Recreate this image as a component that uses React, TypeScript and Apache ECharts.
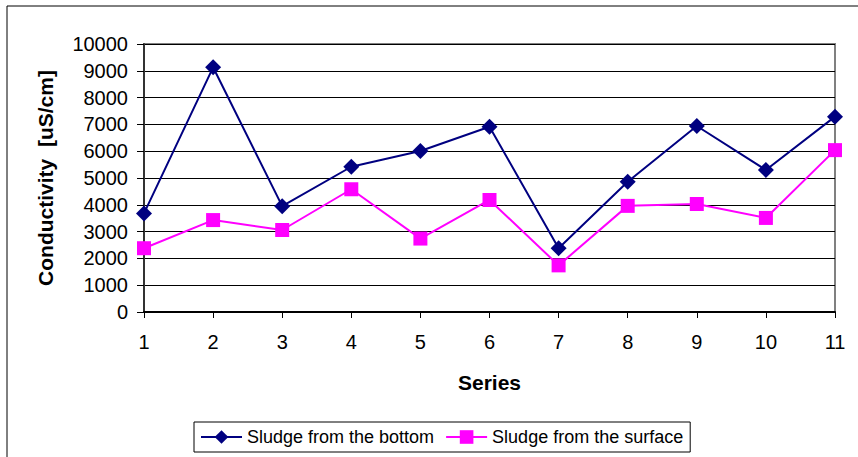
import React, { useEffect, useRef } from "react";
import * as echarts from "echarts";

// Sample numbers along the x axis
const categories = ["1", "2", "3", "4", "5", "6", "7", "8", "9", "10", "11"];

// Conductivity in uS/cm
const bottomSludge = [3680, 9130, 3950, 5420, 6010, 6910, 2380, 4860, 6940, 5300, 7290];
const surfaceSludge = [2380, 3430, 3060, 4580, 2740, 4180, 1740, 3960, 4030, 3510, 6040];

const FONT = "'Liberation Sans', Arial, sans-serif";

export default function App() {
  const ref = useRef<HTMLDivElement>(null);

  useEffect(() => {
    if (!ref.current) return;
    const chart = echarts.init(ref.current, undefined, { renderer: "svg" });
    chart.setOption({
      animation: false,
      backgroundColor: "#ffffff",
      textStyle: { fontFamily: FONT },
      graphic: [
        {
          type: "rect",
          shape: { x: 7, y: 6, width: 900, height: 500 },
          style: { fill: "none", stroke: "#000", lineWidth: 1 },
          silent: true,
          z: -10,
        },
      ],
      grid: {
        left: 144,
        top: 44,
        width: 691,
        height: 268,
        show: true,
        borderColor: "#808080",
        borderWidth: 2,
        backgroundColor: "transparent",
      },
      legend: {
        left: 194,
        top: 422,
        padding: [6, 7, 6, 6],
        borderColor: "#000",
        borderWidth: 1,
        borderRadius: 0,
        itemWidth: 41,
        itemHeight: 17,
        itemGap: 11,
        textStyle: { fontSize: 18, color: "#000", fontFamily: FONT },
        data: ["Sludge from the bottom", "Sludge from the surface"],
      },
      xAxis: {
        type: "category",
        data: categories,
        boundaryGap: false,
        name: "Series",
        nameLocation: "middle",
        nameGap: 60,
        nameTextStyle: { fontSize: 21, fontWeight: "bold", color: "#000", fontFamily: FONT },
        axisLine: { lineStyle: { color: "#000", width: 2 } },
        axisTick: { show: true, length: 6, lineStyle: { color: "#000", width: 1 } },
        axisLabel: { fontSize: 20, color: "#000", margin: 20, fontFamily: FONT },
        splitLine: { show: false },
      },
      yAxis: {
        type: "value",
        min: 0,
        max: 10000,
        interval: 1000,
        name: "Conductivity  [uS/cm]",
        nameLocation: "middle",
        nameGap: 88,
        nameTextStyle: { fontSize: 21, fontWeight: "bold", color: "#000", fontFamily: FONT },
        axisLine: { show: true, lineStyle: { color: "#333", width: 2 } },
        axisTick: { show: true, length: 7, lineStyle: { color: "#000", width: 1 } },
        axisLabel: {
          fontSize: 20,
          color: "#000",
          margin: 16,
          fontFamily: FONT,
          formatter: (v: number) => String(v),
        },
        splitLine: { show: true, lineStyle: { color: "#000", width: 1 } },
      },
      series: [
        {
          name: "Sludge from the bottom",
          type: "line",
          data: bottomSludge,
          symbol: "diamond",
          symbolSize: 16,
          color: "#000080",
          lineStyle: { color: "#000080", width: 2 },
          itemStyle: { color: "#000080" },
          z: 3,
        },
        {
          name: "Sludge from the surface",
          type: "line",
          data: surfaceSludge,
          symbol: "rect",
          symbolSize: 14,
          color: "#ff00ff",
          lineStyle: { color: "#ff00ff", width: 2 },
          itemStyle: { color: "#ff00ff" },
          z: 2,
        },
      ],
    });
    return () => chart.dispose();
  }, []);

  return <div ref={ref} style={{ width: 858, height: 457, position: "absolute", left: 0, top: 0 }} />;
}
